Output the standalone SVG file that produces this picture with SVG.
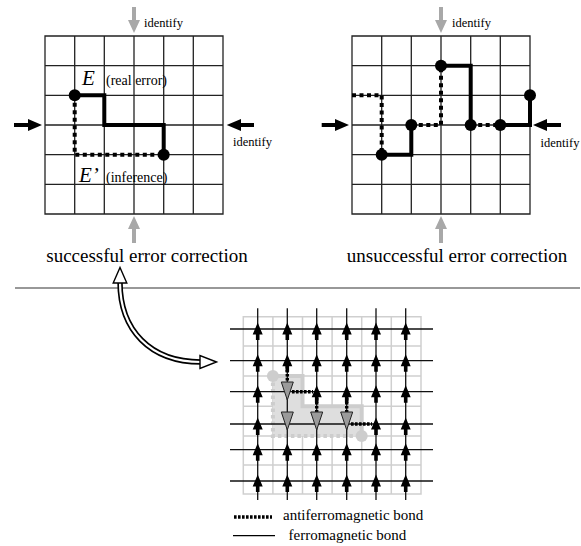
<svg xmlns="http://www.w3.org/2000/svg" width="581" height="546" viewBox="0 0 581 546" font-family="'Liberation Serif', 'Times New Roman', serif">
<defs>
<style>
.grid{fill:none;stroke:#222;stroke-width:1.3}
.solid{fill:none;stroke:#000;stroke-width:4;stroke-linejoin:miter}
.dot{fill:none;stroke:#000;stroke-width:4;stroke-dasharray:4 3.5}
.adot{fill:none;stroke:#000;stroke-width:3.4;stroke-dasharray:2.6 1.4}
.node{fill:#000}
.garrow{fill:#a8a8a8}
.barrow{fill:#000}
.t{font-family:"Liberation Serif","Times New Roman",serif;fill:#000}
.lt{fill:none;stroke:#cfcfcf;stroke-width:1.5}
.lat{fill:none;stroke:#111;stroke-width:1.3}
</style>
<path id="up" d="M0,-6.5 L5,5.5 L1.8,5.5 L1.8,11 L-1.8,11 L-1.8,5.5 L-5,5.5 Z" fill="#000"/>
<path id="gdown" d="M-6,-10 L6,-10 L0,8 Z" fill="#9a9a9a" stroke="#222" stroke-width="1"/>
</defs>
<rect width="581" height="546" fill="#fff"/>

<g id="grid-left">
<path class="grid" d="M45,36 H223 V214 H45 Z M74.7,36 V214 M104.3,36 V214 M134,36 V214 M163.7,36 V214 M193.3,36 V214 M45,65.7 H223 M45,95.3 H223 M45,125 H223 M45,154.7 H223 M45,184.3 H223"/>
<path class="solid" d="M74.7,95.3 H104.3 V125 H163.7 V154.7"/>
<path class="dot" d="M74.7,95.3 V154.7 H163.7"/>
<circle class="node" cx="74.7" cy="95.3" r="6"/>
<circle class="node" cx="163.7" cy="154.7" r="6"/>
<text class="t" x="82" y="85" font-size="21" font-style="italic">E</text>
<text class="t" x="106" y="85" font-size="14">(real error)</text>
<text class="t" x="79" y="182" font-size="21" font-style="italic">E’</text>
<text class="t" x="106" y="182" font-size="14">(inference)</text>
</g>

<g id="arrows-left">
<path class="garrow" d="M132,7 H136 V20 H140 L134,33 L128,20 H132 Z"/>
<path class="garrow" d="M132,243 H136 V229 H140 L134,216 L128,229 H132 Z"/>
<text class="t" x="144" y="27" font-size="12.5">identify</text>
<path class="barrow" d="M14,123 H28 V119 L42,125 L28,131 V127 H14 Z"/>
<path class="barrow" d="M254,123 H241 V119 L226.7,125 L241,131 V127 H254 Z"/>
<text class="t" x="233" y="146" font-size="12.5">identify</text>
<text class="t" x="147" y="262" font-size="19" text-anchor="middle">successful error correction</text>
</g>

<g id="grid-right">
<path class="grid" d="M352,36 H530 V214 H352 Z M381.7,36 V214 M411.3,36 V214 M441,36 V214 M470.7,36 V214 M500.3,36 V214 M352,65.7 H530 M352,95.3 H530 M352,125 H530 M352,154.7 H530 M352,184.3 H530"/>
<path class="solid" d="M441,65.7 H470.7 V125 M381.7,154.7 H411.3 V125 M500.3,125 H530 V95.3"/>
<path class="dot" d="M352,95.3 H381.7 V154.7 M411.3,125 H441 V65.7 M470.7,125 H500.3"/>
<circle class="node" cx="441" cy="65.7" r="6"/>
<circle class="node" cx="381.7" cy="154.7" r="6"/>
<circle class="node" cx="411.3" cy="125" r="6"/>
<circle class="node" cx="470.7" cy="125" r="6"/>
<circle class="node" cx="500.3" cy="125" r="6"/>
<circle class="node" cx="530" cy="95.3" r="6"/>
</g>

<g id="arrows-right">
<path class="garrow" d="M439,7 H443 V20 H447 L441,33 L435,20 H439 Z"/>
<path class="garrow" d="M439,243 H443 V229 H447 L441,216 L435,229 H439 Z"/>
<text class="t" x="452" y="27" font-size="12.5">identify</text>
<path class="barrow" d="M321.7,123 H335 V119 L349,125 L335,131 V127 H321.7 Z"/>
<path class="barrow" d="M561,123 H547 V119 L533,125 L547,131 V127 H561 Z"/>
<text class="t" x="540.5" y="147" font-size="12.5">identify</text>
<text class="t" x="457" y="262" font-size="19" text-anchor="middle">unsuccessful error correction</text>
</g>

<line x1="15" y1="288" x2="580" y2="288" stroke="#333" stroke-width="1.2"/>

<g id="curved-arrow">
<path d="M120,282 C120,330 150,362 201,362" fill="none" stroke="#000" stroke-width="5.5"/>
<path d="M120,282 C120,330 150,362 201,362" fill="none" stroke="#fff" stroke-width="2.2"/>
<path d="M120,267.5 L126.8,283 L113.2,283 Z" fill="#fff" stroke="#000" stroke-width="1.4" stroke-linejoin="miter"/>
<path d="M216.5,362 L200,355.5 L200,368.5 Z" fill="#fff" stroke="#000" stroke-width="1.4" stroke-linejoin="miter"/>
</g>

<g id="lattice">
<path class="lt" d="M243.3,316.7 H421 V494 H243.3 Z M272.9,316.7 V494 M302.5,316.7 V494 M332.1,316.7 V494 M361.7,316.7 V494 M391.3,316.7 V494 M243.3,346 H421 M243.3,376 H421 M243.3,406.3 H421 M243.3,436 H421 M243.3,465 H421"/>
<path d="M272.9,376 H302.5 V406.3 H361.7 V436 H272.9 Z" fill="#dedede"/>
<path d="M272.9,376 H302.5 V406.3 H361.7 V436" fill="none" stroke="#cdcdcd" stroke-width="4"/>
<path d="M272.9,376 V436 H361.7" fill="none" stroke="#cdcdcd" stroke-width="4" stroke-dasharray="3.5 3"/>
<circle cx="272.9" cy="376" r="6" fill="#cdcdcd"/>
<circle cx="361.7" cy="436" r="6" fill="#cdcdcd"/>
<path class="lat" d="M257.7,308.3 V500 M287.3,308.3 V500 M316.7,308.3 V500 M346.7,308.3 V500 M376,308.3 V500 M405.7,308.3 V500 M230,329 H433 M230,360.7 H433 M230,391.7 H433 M230,424 H433 M230,449.7 H433 M230,481 H433"/>
<path class="adot" d="M287.3,362 V382 M292,391.7 H313 M316.7,394 V412 M346.7,394 V412 M351,424 H372"/>
<g id="spins-up">
<use href="#up" x="257.7" y="329"/><use href="#up" x="287.3" y="329"/><use href="#up" x="316.7" y="329"/><use href="#up" x="346.7" y="329"/><use href="#up" x="376" y="329"/><use href="#up" x="405.7" y="329"/>
<use href="#up" x="257.7" y="360.7"/><use href="#up" x="287.3" y="360.7"/><use href="#up" x="316.7" y="360.7"/><use href="#up" x="346.7" y="360.7"/><use href="#up" x="376" y="360.7"/><use href="#up" x="405.7" y="360.7"/>
<use href="#up" x="257.7" y="391.7"/><use href="#up" x="316.7" y="391.7"/><use href="#up" x="346.7" y="391.7"/><use href="#up" x="376" y="391.7"/><use href="#up" x="405.7" y="391.7"/>
<use href="#up" x="257.7" y="424"/><use href="#up" x="376" y="424"/><use href="#up" x="405.7" y="424"/>
<use href="#up" x="257.7" y="449.7"/><use href="#up" x="287.3" y="449.7"/><use href="#up" x="316.7" y="449.7"/><use href="#up" x="346.7" y="449.7"/><use href="#up" x="376" y="449.7"/><use href="#up" x="405.7" y="449.7"/>
<use href="#up" x="257.7" y="481"/><use href="#up" x="287.3" y="481"/><use href="#up" x="316.7" y="481"/><use href="#up" x="346.7" y="481"/><use href="#up" x="376" y="481"/><use href="#up" x="405.7" y="481"/>
</g>
<g id="spins-down">
<use href="#gdown" x="287.3" y="392"/>
<use href="#gdown" x="287.3" y="422"/>
<use href="#gdown" x="316.7" y="422"/>
<use href="#gdown" x="346.7" y="422"/>
</g>
</g>

<g id="legend">
<line class="adot" x1="234" y1="517" x2="272" y2="517"/>
<text class="t" x="283" y="520" font-size="15">antiferromagnetic bond</text>
<line x1="233" y1="535.7" x2="275" y2="535.7" stroke="#000" stroke-width="1.2"/>
<text class="t" x="288.5" y="540" font-size="15">ferromagnetic bond</text>
</g>
</svg>
